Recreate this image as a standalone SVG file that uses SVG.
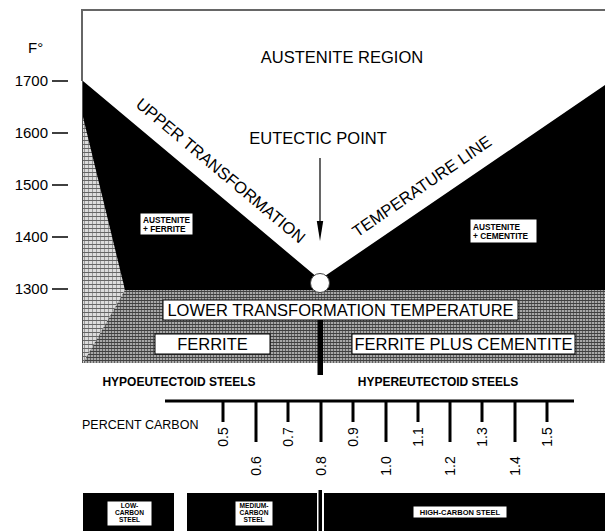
<svg xmlns="http://www.w3.org/2000/svg" width="605" height="531" viewBox="0 0 605 531">
<defs>
<pattern id="hatchLight" width="4" height="4" patternUnits="userSpaceOnUse">
<rect width="4" height="4" fill="#dcdcdc"/>
<rect width="4" height="1" fill="#666"/>
<rect x="0" y="1" width="1" height="3" fill="#999"/>
</pattern>
<pattern id="hatchDark" width="3" height="3" patternUnits="userSpaceOnUse">
<rect width="3" height="3" fill="#a8a8a8"/>
<rect width="3" height="1" fill="#404040"/>
<rect x="0" y="1" width="1" height="2" fill="#606060"/>
</pattern>
<style>
text{font-family:"Liberation Sans",Arial,sans-serif;fill:#000}
.big{font-size:16.5px}
.axis{font-size:15px}
.small{font-size:8.3px;font-weight:bold}
.tiny{font-size:6.6px;font-weight:bold}
.bold{font-weight:bold}
.box{fill:#fff;stroke:#000;stroke-width:1}
.tick{stroke:#000;stroke-width:3}
.num{font-size:14px}
</style>
</defs>

<g id="regions">
<polygon points="83,81 318,278 322,278 605,85 605,290 83,290" fill="#000"/>
<polygon points="83,117 125,290 83,363" fill="url(#hatchLight)"/>
<polygon points="125,290 605,290 605,363 83,363" fill="url(#hatchDark)"/>
<polyline points="82,81 82,10 605,10" fill="none" stroke="#666" stroke-width="2"/>
<line x1="82.5" y1="81" x2="82.5" y2="363" stroke="#555" stroke-width="1"/>
</g>

<g id="axis">
<text x="28" y="53" class="axis">F°</text>
<text x="48" y="86" text-anchor="end" class="axis">1700</text>
<text x="48" y="138" text-anchor="end" class="axis">1600</text>
<text x="48" y="190" text-anchor="end" class="axis">1500</text>
<text x="48" y="242" text-anchor="end" class="axis">1400</text>
<text x="48" y="294" text-anchor="end" class="axis">1300</text>
<g stroke="#000" stroke-width="1.5">
<line x1="52" y1="81" x2="68" y2="81"/>
<line x1="52" y1="133" x2="68" y2="133"/>
<line x1="52" y1="185" x2="68" y2="185"/>
<line x1="52" y1="237" x2="68" y2="237"/>
<line x1="52" y1="289" x2="68" y2="289"/>
</g>
</g>

<g id="austenite-region"><text x="342" y="63" text-anchor="middle" class="big">AUSTENITE REGION</text></g>
<g id="upper-line-label"><text x="0" y="0" text-anchor="middle" class="big" transform="translate(217,175) rotate(40)">UPPER TRANSFORMATION</text></g>
<g id="temperature-line-label"><text x="0" y="0" text-anchor="middle" class="big" transform="translate(425,191) rotate(-34.5)">TEMPERATURE LINE</text></g>
<g id="eutectic-label"><text x="318" y="144" text-anchor="middle" class="big">EUTECTIC POINT</text></g>

<g id="connectors">
<line x1="320" y1="158" x2="320" y2="224" stroke="#000" stroke-width="1.2"/>
<polygon points="316.8,221 323.2,221 320,241" fill="#000"/>
</g>

<g id="eutectic-point"><circle cx="320" cy="283" r="9.5" fill="#fff" stroke="#444" stroke-width="1"/></g>

<g id="austenite-ferrite">
<rect x="140" y="213" width="53" height="22" class="box"/>
<text x="143" y="223" class="small">AUSTENITE</text>
<text x="143" y="232" class="small">+ FERRITE</text>
</g>
<g id="austenite-cementite">
<rect x="470" y="219" width="67" height="24" class="box"/>
<text x="473" y="230" class="small">AUSTENITE</text>
<text x="473" y="239" class="small">+ CEMENTITE</text>
</g>

<g id="lower-transformation">
<rect x="163" y="300" width="355" height="20" class="box"/>
<text x="340.5" y="316" text-anchor="middle" class="big">LOWER TRANSFORMATION TEMPERATURE</text>
</g>
<g id="ferrite">
<rect x="155" y="334" width="115" height="20" class="box"/>
<text x="212.5" y="350" text-anchor="middle" class="big">FERRITE</text>
</g>
<g id="ferrite-cementite">
<rect x="352" y="334" width="223" height="20" class="box"/>
<text x="463.5" y="350" text-anchor="middle" class="big">FERRITE PLUS CEMENTITE</text>
</g>

<g id="eutectoid-divider"><rect x="317.5" y="320" width="5.5" height="55" fill="#000"/></g>

<g id="steel-classes">
<text x="179" y="386" text-anchor="middle" class="bold" font-size="12">HYPOEUTECTOID STEELS</text>
<text x="438" y="386" text-anchor="middle" class="bold" font-size="12">HYPEREUTECTOID STEELS</text>
</g>

<g id="percent-carbon-scale">
<text x="82" y="429" font-size="12.5">PERCENT CARBON</text>
<line x1="165" y1="401" x2="574" y2="401" stroke="#000" stroke-width="3"/>
<g class="tick">
<line x1="223" y1="401" x2="223" y2="422"/>
<line x1="256" y1="401" x2="256" y2="442"/>
<line x1="288" y1="401" x2="288" y2="422"/>
<line x1="321" y1="401" x2="321" y2="442"/>
<line x1="353" y1="401" x2="353" y2="422"/>
<line x1="386" y1="401" x2="386" y2="442"/>
<line x1="418" y1="401" x2="418" y2="422"/>
<line x1="450" y1="401" x2="450" y2="442"/>
<line x1="482" y1="401" x2="482" y2="422"/>
<line x1="515" y1="401" x2="515" y2="442"/>
<line x1="547" y1="401" x2="547" y2="422"/>
</g>
<g text-anchor="middle">
<text class="num" transform="translate(228,437) rotate(-90)">0.5</text>
<text class="num" transform="translate(261,466) rotate(-90)">0.6</text>
<text class="num" transform="translate(293,437) rotate(-90)">0.7</text>
<text class="num" transform="translate(326,466) rotate(-90)">0.8</text>
<text class="num" transform="translate(358,437) rotate(-90)">0.9</text>
<text class="num" transform="translate(391,466) rotate(-90)">1.0</text>
<text class="num" transform="translate(423,437) rotate(-90)">1.1</text>
<text class="num" transform="translate(455,466) rotate(-90)">1.2</text>
<text class="num" transform="translate(487,437) rotate(-90)">1.3</text>
<text class="num" transform="translate(520,466) rotate(-90)">1.4</text>
<text class="num" transform="translate(552,437) rotate(-90)">1.5</text>
</g>
</g>

<g id="low-carbon">
<rect x="83" y="493" width="91" height="38" fill="#000"/>
<rect x="107" y="501" width="45" height="25" class="box"/>
<g text-anchor="middle">
<text x="129.5" y="508" class="tiny">LOW-</text>
<text x="129.5" y="515" class="tiny">CARBON</text>
<text x="129.5" y="522" class="tiny">STEEL</text>
</g>
</g>
<g id="medium-carbon">
<rect x="187" y="493" width="130" height="38" fill="#000"/>
<rect x="235" y="501" width="38" height="25" class="box"/>
<g text-anchor="middle">
<text x="254" y="508" class="tiny">MEDIUM-</text>
<text x="254" y="515" class="tiny">CARBON</text>
<text x="254" y="522" class="tiny">STEEL</text>
</g>
</g>
<g id="eutectoid-mark"><rect x="318.5" y="490" width="3.5" height="41" fill="#000"/></g>
<g id="high-carbon">
<rect x="324" y="493" width="281" height="38" fill="#000"/>
<rect x="413" y="506" width="94" height="12" class="box"/>
<text x="460" y="515" text-anchor="middle" font-size="7.5" font-weight="bold">HIGH-CARBON STEEL</text>
</g>
</svg>
